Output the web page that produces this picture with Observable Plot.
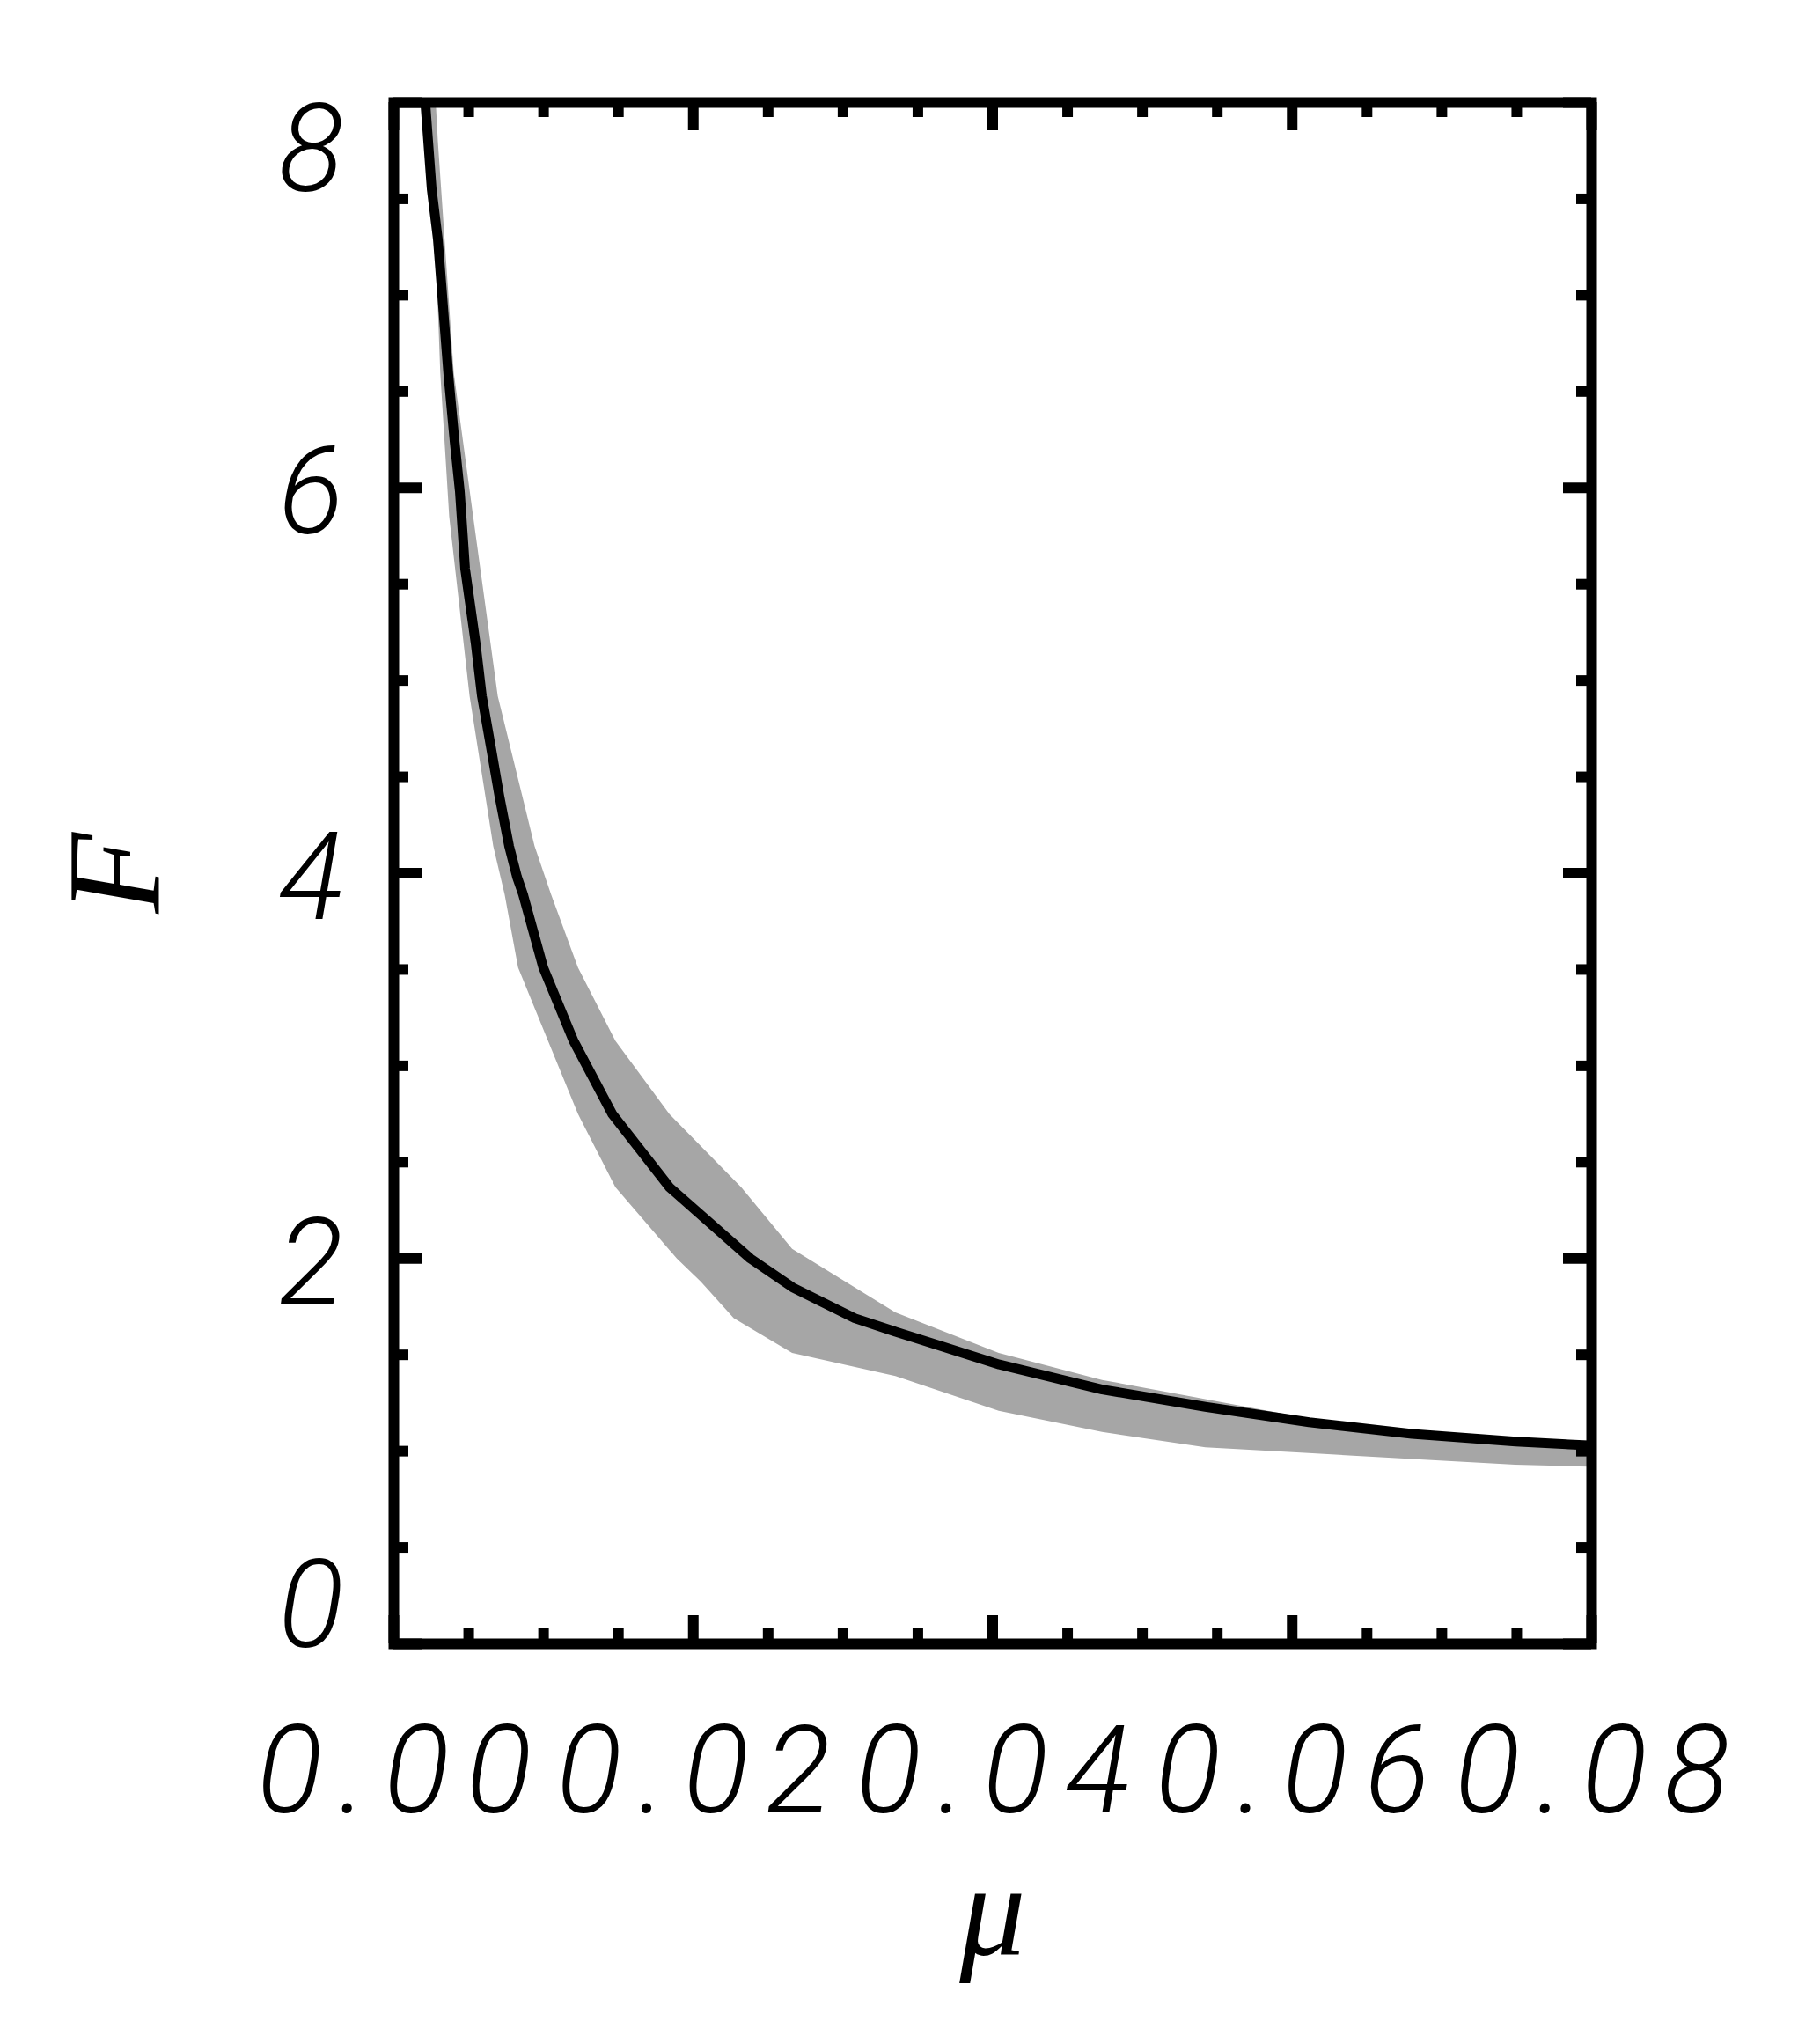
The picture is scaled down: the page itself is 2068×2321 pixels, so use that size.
<!DOCTYPE html>
<html>
<head>
<meta charset="utf-8">
<script src="https://cdn.jsdelivr.net/npm/d3@7"></script>
<script src="https://cdn.jsdelivr.net/npm/@observablehq/plot@0.6"></script>
<style>
  html, body { margin: 0; padding: 0; background: #fff; }
  #chart svg { display: block; }
</style>
</head>
<body>
<div id="chart"></div>
<script>
// ---- data ----
// black model curve (mu, F)
const curveMu = [0.00210, 0.00253, 0.00294, 0.00329, 0.00365, 0.00406, 0.00441, 0.00476, 0.00547, 0.00588,
                 0.00647, 0.00705, 0.00770, 0.00823, 0.00863, 0.00998, 0.01200, 0.01459, 0.01841, 0.02381,
                 0.02663, 0.03078, 0.03351, 0.04044, 0.04732, 0.05420, 0.06113, 0.06801, 0.07494, 0.07977];
const curveF  = [8.00, 7.55, 7.29, 6.94, 6.58, 6.24, 5.98, 5.58, 5.19, 4.92,
                 4.66, 4.40, 4.14, 3.98, 3.89, 3.51, 3.13, 2.75, 2.37, 2.00,
                 1.85, 1.69, 1.62, 1.45, 1.32, 1.23, 1.15, 1.09, 1.05, 1.03];

// outline of the grey scatter cloud: upper/right edge from top to the right end,
// then lower/left edge back to the top
const bandMu = [0.00280, 0.00294, 0.00400, 0.00530, 0.00694, 0.00940, 0.01050, 0.01230, 0.01480, 0.01840,
                0.02320, 0.02660, 0.03350, 0.04040, 0.04730, 0.05420, 0.06110, 0.06800, 0.07490, 0.07980,
                0.07980, 0.07490, 0.06800, 0.06110, 0.05420, 0.04730, 0.04040, 0.03350, 0.02660, 0.02270,
                0.02050, 0.01890, 0.01480, 0.01230, 0.01030, 0.00830, 0.00740, 0.00664, 0.00506, 0.00370,
                0.00310, 0.00253, 0.00240];
const bandF  = [8.00, 7.80, 6.60, 5.85, 4.92, 4.14, 3.89, 3.51, 3.13, 2.75,
                2.37, 2.05, 1.72, 1.51, 1.37, 1.27, 1.17, 1.11, 1.05, 1.04,
                0.92, 0.93, 0.96, 0.99, 1.02, 1.10, 1.21, 1.39, 1.51, 1.69,
                1.88, 2.00, 2.37, 2.75, 3.13, 3.51, 3.89, 4.14, 4.92, 5.85,
                6.60, 7.80, 8.00];

// ticks and labels
const xMajor = [0, 0.02, 0.04, 0.06, 0.08];
const xTickLabels = ["0.00", "0.02", "0.04", "0.06", "0.08"];
const xMinor = [0.005, 0.01, 0.015, 0.025, 0.03, 0.035, 0.045, 0.05, 0.055, 0.065, 0.07, 0.075];
const yMajor = [0, 2, 4, 6, 8];
const yTickLabels = ["0", "2", "4", "6", "8"];
const yMinor = [0.5, 1, 1.5, 2.5, 3, 3.5, 4.5, 5, 5.5, 6.5, 7, 7.5];
const xLabel = "μ";
const yLabel = "F";

// ---- build tables ----
const curve = curveMu.map((m, i) => ({mu: m, F: curveF[i]}));
const bandOutline = bandMu.map((m, i) => ({mu: m, F: bandF[i]}));
const xLab = xMajor.map((v, i) => ({v, t: xTickLabels[i]}));
const yLab = yMajor.map((v, i) => ({v, t: yTickLabels[i]}));

// ---- layout ----
const W = 2068, H = 2321;
const mL = 447, mR = W - 1808, mT = 116, mB = H - 1867;
const fw = W - mL - mR, fh = H - mT - mB;
const majLen = 32, minLen = 17, lw = 12;
const band = "#a6a6a6";
const numFont = {fontFamily: "Roboto, 'Liberation Sans', sans-serif", fontStyle: "italic", fontWeight: 300, fontSize: 138, fill: "black"};
const labFont = {fontFamily: "'Liberation Serif', 'DejaVu Serif', serif", fontStyle: "italic", fontSize: 150, fill: "black"};

const tickMarks = [];
for (const [vals, len] of [[xMajor, majLen], [xMinor, minLen]]) {
  tickMarks.push(Plot.tickX(vals, {x: d => d, insetTop: fh - len, stroke: "black", strokeWidth: lw}));
  tickMarks.push(Plot.tickX(vals, {x: d => d, insetBottom: fh - len, stroke: "black", strokeWidth: lw}));
}
for (const [vals, len] of [[yMajor, majLen], [yMinor, minLen]]) {
  tickMarks.push(Plot.tickY(vals, {y: d => d, insetRight: fw - len, stroke: "black", strokeWidth: lw}));
  tickMarks.push(Plot.tickY(vals, {y: d => d, insetLeft: fw - len, stroke: "black", strokeWidth: lw}));
}

const plot = Plot.plot({
  width: W, height: H,
  marginLeft: mL, marginRight: mR, marginTop: mT, marginBottom: mB,
  x: {domain: [0, 0.08], axis: null},
  y: {domain: [0, 8], axis: null},
  style: {background: "white"},
  marks: [
    Plot.line(bandOutline, {x: "mu", y: "F", fill: band, stroke: "none", curve: "linear-closed", clip: true}),
    Plot.line(curve, {x: "mu", y: "F", stroke: "black", strokeWidth: 11, clip: true}),
    ...tickMarks,
    Plot.frame({stroke: "black", strokeWidth: lw}),
    // x tick labels
    Plot.text(xLab, {x: "v", text: "t", frameAnchor: "bottom", lineAnchor: "bottom", dy: 191, dx: 10, textAnchor: "middle", ...numFont}),
    // y tick labels (end labels kept inside the frame height, as in the reference)
    Plot.text(yLab.filter(d => d.v === 8), {y: "v", text: "t", frameAnchor: "left", lineAnchor: "bottom", textAnchor: "end", dx: -57, dy: 100, ...numFont}),
    Plot.text(yLab.filter(d => d.v > 0 && d.v < 8), {y: "v", text: "t", frameAnchor: "left", lineAnchor: "bottom", textAnchor: "end", dx: -57, dy: 52, ...numFont}),
    Plot.text(yLab.filter(d => d.v === 0), {y: "v", text: "t", frameAnchor: "left", lineAnchor: "bottom", textAnchor: "end", dx: -57, dy: 3, ...numFont}),
    // axis titles
    Plot.text([xLabel], {text: d => d, frameAnchor: "bottom", lineAnchor: "bottom", dy: 353, textAnchor: "middle", ...labFont}),
    Plot.text([yLabel], {text: d => d, frameAnchor: "left", rotate: -90, dx: -316, dy: 0, textAnchor: "middle", ...labFont})
  ]
});

d3.select(plot).selectAll("text")
  .filter(function () { return xTickLabels.includes(this.textContent); })
  .style("letter-spacing", "19px");

document.getElementById("chart").appendChild(plot);
</script>
</body>
</html>
